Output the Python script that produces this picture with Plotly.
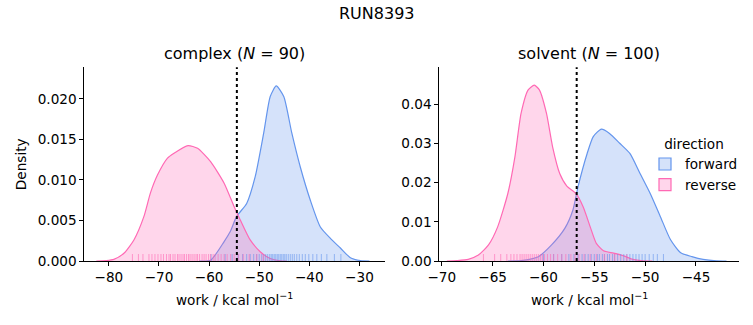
import plotly.graph_objects as go

# ---------------- data ----------------
title_text = "RUN8393"
panel_titles = ["complex (<i>N</i> = 90)", "solvent (<i>N</i> = 100)"]
x_title = "work / kcal mol<sup>−1</sup>"
y_title = "Density"
directions = ["forward", "reverse"]

# complex panel KDE curves
cx_fwd = [-62.0, -59.7, -57.0, -55.8, -54.5, -52.5, -50.8, -49.1, -47.8, -46.6, -45.1,
          -43.5, -41.8, -39.8, -37.8, -35.8, -33.8, -31.8, -29.8, -28.0]
cy_fwd = [0.0, 0.0001, 0.0024, 0.0036, 0.0055, 0.0071, 0.0104, 0.0158, 0.0203, 0.0216, 0.0203,
          0.0158, 0.0116, 0.0075, 0.0042, 0.0028, 0.0016, 0.0004, 0.00005, 0.0]
cx_rev = [-82.5, -80.5, -79.0, -77.0, -75.0, -73.0, -71.7, -70.3, -68.3, -67.0, -64.2,
          -62.3, -59.7, -57.0, -55.0, -53.8, -51.8, -49.8, -47.8, -45.8, -44.5]
cy_rev = [0.0, 0.00005, 0.0002, 0.00095, 0.0026, 0.0055, 0.0084, 0.0106, 0.0127, 0.0133, 0.01424,
          0.0139, 0.01226, 0.0096, 0.0067, 0.0051, 0.0026, 0.00115, 0.0003, 0.00003, 0.0]

# solvent panel KDE curves
sx_fwd = [-63.5, -62.2, -60.5, -59.2, -57.9, -57.1, -56.6, -55.7, -55.1, -54.3, -53.5,
          -52.5, -51.5, -50.5, -49.5, -48.5, -47.5, -46.5, -45.4, -44.3, -43.0, -42.0]
sy_fwd = [0.0, 0.0001, 0.0011, 0.0041, 0.0083, 0.0130, 0.0189, 0.0274, 0.0317, 0.0336, 0.0325,
          0.0300, 0.0274, 0.0223, 0.0172, 0.0113, 0.0054, 0.0021, 0.0011, 0.0004, 0.00005, 0.0]
sx_rev = [-69.5, -68.5, -67.4, -66.4, -65.4, -64.5, -63.5, -62.8, -62.2, -61.5, -60.9,
          -60.4, -59.7, -59.1, -58.4, -57.7, -56.8, -56.1, -55.4, -54.8, -54.1, -53.1,
          -52.1, -51.2, -50.2, -49.3]
sy_rev = [0.0, 0.0001, 0.0004, 0.0015, 0.0041, 0.0087, 0.0172, 0.0266, 0.0376, 0.0436, 0.0448,
          0.0436, 0.0376, 0.0291, 0.0223, 0.0191, 0.0172, 0.0138, 0.0087, 0.0045, 0.0026, 0.0020,
          0.0013, 0.0004, 0.00005, 0.0]

# rug samples (approximate)
rug_c_fwd = [-59.6, -56.8, -55.4, -54.2, -53.3, -52.5, -51.8, -51.1, -50.5, -50.0, -49.5, -49.1,
             -48.7, -48.3, -47.9, -47.6, -47.3, -47.0, -46.7, -46.4, -46.1, -45.8, -45.5, -45.2,
             -44.9, -44.6, -44.2, -43.8, -43.4, -43.0, -42.5, -42.0, -41.4, -40.8, -40.1, -39.3,
             -38.5, -37.6, -36.5, -35.0, -33.7]
rug_c_rev = [-75.3, -74.1, -73.2, -72.0, -71.4, -70.8, -70.2, -69.6, -69.1, -68.5, -68.0, -67.7,
             -67.2, -66.8, -66.3, -66.0, -65.6, -65.2, -64.9, -64.5, -64.1, -63.8, -63.4, -63.0,
             -62.6, -62.3, -61.9, -61.4, -61.0, -60.6, -60.1, -59.7, -59.2, -58.8, -58.2, -57.6,
             -57.0, -56.4, -55.7, -55.0, -54.1, -53.2, -52.0, -50.5, -49.2]
rug_s_fwd = [-60.0, -59.0, -58.2, -57.5, -57.0, -56.6, -56.2, -55.9, -55.6, -55.3, -55.0, -54.7,
             -54.5, -54.2, -54.0, -53.7, -53.5, -53.2, -53.0, -52.7, -52.4, -52.1, -51.8, -51.5,
             -51.2, -50.9, -50.6, -50.3, -50.0, -49.6, -49.2, -48.8, -48.2]
rug_s_rev = [-65.9, -64.8, -64.2, -63.6, -63.2, -62.9, -62.6, -62.3, -62.1, -61.9, -61.7, -61.5,
             -61.3, -61.1, -60.9, -60.7, -60.5, -60.3, -60.1, -59.9, -59.6, -59.3, -59.0, -58.6,
             -58.2, -57.8, -57.3, -56.9, -56.5, -56.0, -55.4, -54.8, -54.0, -53.0, -51.8]

# free-energy estimates (dotted lines)
dg_values = [-54.46, -56.73]

# ---------------- styling ----------------
FONT = "DejaVu Sans"
TICK_SIZE = 13.6
col_line = {"forward": "#6495ED", "reverse": "#FF69B4"}
col_fill = {"forward": "rgba(100,149,237,0.27)", "reverse": "rgba(255,105,180,0.27)"}
col_rug = {"forward": "rgba(100,149,237,0.6)", "reverse": "rgba(255,105,180,0.6)"}

W, H = 753, 325
def fx(px):
    return px / W
def fy(py):
    return 1 - py / H

fig = go.Figure()

panels = [
    (("x", "y"), {"forward": (cx_fwd, cy_fwd, rug_c_fwd), "reverse": (cx_rev, cy_rev, rug_c_rev)}),
    (("x2", "y2"), {"forward": (sx_fwd, sy_fwd, rug_s_fwd), "reverse": (sx_rev, sy_rev, rug_s_rev)}),
]

for (xa, ya), series in panels:
    for d in directions:
        xs, ys, rug = series[d]
        fig.add_trace(go.Scatter(
            x=xs, y=ys, xaxis=xa, yaxis=ya, mode="lines", fill="tozeroy",
            fillcolor=col_fill[d], line=dict(color=col_line[d], width=1.2, shape="spline", smoothing=0.6),
            showlegend=False, hoverinfo="skip"))
    for d in directions:
        xs, ys, rug = series[d]
        fig.add_trace(go.Scatter(
            x=rug, y=[0] * len(rug), xaxis=xa, yaxis=ya, mode="markers",
            marker=dict(symbol="line-ns", size=10, line=dict(color=col_rug[d], width=1)),
            showlegend=False, hoverinfo="skip", cliponaxis=True))

# legend entries
for d in directions:
    fig.add_trace(go.Bar(x=[None], y=[None], name=d, xaxis="x2", yaxis="y2",
                         marker=dict(color=col_fill[d], line=dict(color=col_line[d], width=1.2))))

# dotted lines
for (xa, ya), dg in zip([("x", "y"), ("x2", "y2")], dg_values):
    fig.add_shape(type="line", xref=xa, yref=ya + " domain", x0=dg, x1=dg, y0=0, y1=1,
                  line=dict(color="black", width=2, dash="dot"))

axis_common = dict(showline=True, linecolor="black", linewidth=1, ticks="outside", ticklen=4,
                   tickwidth=1, tickcolor="black", showgrid=False, zeroline=False, automargin=False,
                   tickfont=dict(family=FONT, size=TICK_SIZE, color="black"), mirror=False)

L1, R1, L2, R2, TOP, BOT = 84.3, 385, 439.3, 739.3, 67.3, 261

annots = [
    dict(text=title_text, x=0.5, y=fy(13), size=16),
    dict(text=panel_titles[0], x=(fx(L1) + fx(R1)) / 2, y=fy(54), size=16),
    dict(text=panel_titles[1], x=(fx(L2) + fx(R2)) / 2, y=fy(54), size=16),
    dict(text=x_title, x=(fx(L1) + fx(R1)) / 2, y=fy(299), size=13.6),
    dict(text=x_title, x=(fx(L2) + fx(R2)) / 2, y=fy(299), size=13.6),
]
annotations = [dict(text=a["text"], x=a["x"], y=a["y"], xref="paper", yref="paper", showarrow=False,
                    font=dict(size=a["size"], family=FONT, color="black"),
                    xanchor="center", yanchor="middle") for a in annots]
annotations.append(dict(text=y_title, x=fx(21), y=fy((TOP + BOT) / 2), xref="paper", yref="paper",
                        showarrow=False, textangle=-90, font=dict(size=13.6, family=FONT, color="black"),
                        xanchor="center", yanchor="middle"))

fig.update_layout(
    width=W, height=H, margin=dict(l=0, r=0, t=0, b=0, autoexpand=False),
    plot_bgcolor="white", paper_bgcolor="white",
    font=dict(family=FONT, size=13.6, color="black"),
    xaxis=dict(domain=[fx(L1), fx(R1)], range=[-84.9, -24.9], dtick=10, anchor="y", **axis_common),
    yaxis=dict(domain=[fy(BOT), fy(TOP)], range=[0, 0.0239], dtick=0.005, tickformat=".3f", anchor="x",
               **axis_common),
    xaxis2=dict(domain=[fx(L2), fx(R2)], range=[-70.24, -40.74], dtick=5, anchor="y2", **axis_common),
    yaxis2=dict(domain=[fy(BOT), fy(TOP)], range=[0, 0.04935], dtick=0.01, tickformat=".2f", anchor="x2",
                **axis_common),
    legend=dict(title=dict(text="direction", font=dict(size=13.6), side="top center"),
                x=fx(645), y=fy(131), xanchor="left", yanchor="top",
                bgcolor="rgba(0,0,0,0)", font=dict(size=13.6), itemwidth=30, tracegroupgap=0),
    showlegend=True,
    annotations=annotations,
)

fig.write_html("out.html")
